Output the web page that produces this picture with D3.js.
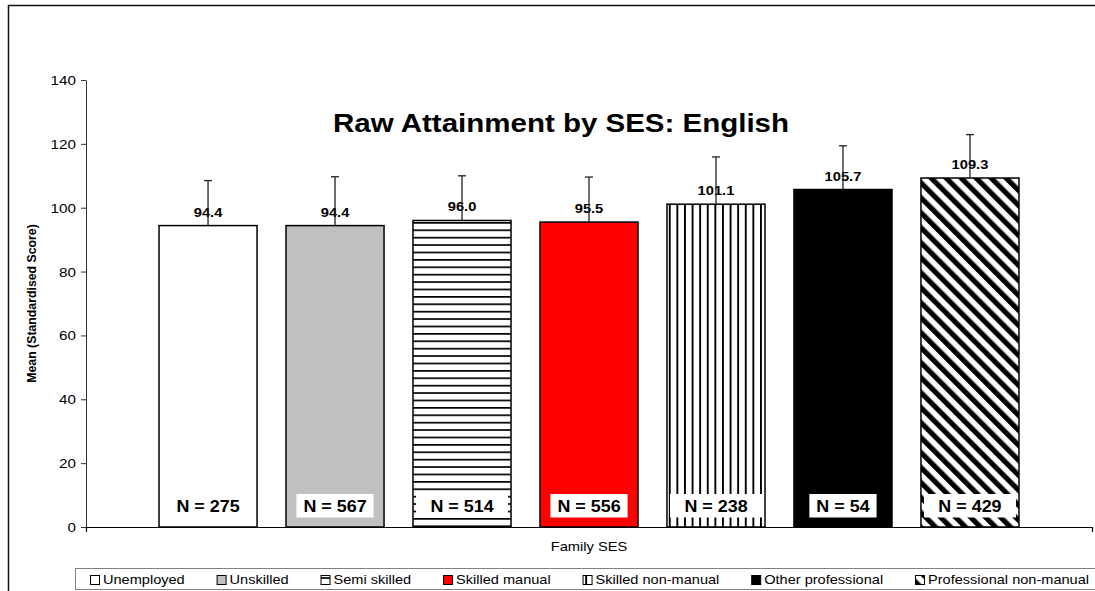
<!DOCTYPE html>
<html>
<head>
<meta charset="utf-8">
<script src="https://cdn.jsdelivr.net/npm/d3@7"></script>
<style>
  html, body { margin: 0; background: #fff; overflow: hidden; }
  svg { display: block; overflow: hidden; }
</style>
</head>
<body>
<svg id="chart" width="1095" height="591"></svg>
<script>
"use strict";

var categories = ["Unemployed", "Unskilled", "Semi skilled", "Skilled manual",
  "Skilled non-manual", "Other professional", "Professional non-manual"];
var meanValues = [94.4, 94.4, 96.0, 95.5, 101.1, 105.7, 109.3];
var errorValues = [14.1, 15.3, 14.0, 14.1, 14.8, 13.7, 13.6];
var sampleSizes = [275, 567, 514, 556, 238, 54, 429];
var yTicks = [0, 20, 40, 60, 80, 100, 120, 140];

var barFills = ["#ffffff", "#c0c0c0", "url(#pat-horiz)", "#ff0000",
  "url(#pat-vert)", "#000000", "url(#pat-diag)"];

var FONT = "'Liberation Sans', Arial, Helvetica, sans-serif";
var STRETCH = 1.13; // the original render is wider than it is tall

var svg = d3.select("#chart");
var plot = { left: 86, right: 1092, top: 80, bottom: 527 };

var x = d3.scaleBand()
  .domain(categories)
  .range([plot.left, plot.right])
  .paddingInner(0.228)
  .paddingOuter(0.575);
var y = d3.scaleLinear().domain([0, 140]).range([plot.bottom, plot.top]);

// patterns
var defs = svg.append("defs");
var horiz = defs.append("pattern").attr("id", "pat-horiz")
  .attr("patternUnits", "userSpaceOnUse").attr("width", 8).attr("height", 7.4);
horiz.append("rect").attr("width", 8).attr("height", 7.4).attr("fill", "#fff");
horiz.append("rect").attr("width", 8).attr("height", 1.7).attr("fill", "#000");

var vert = defs.append("pattern").attr("id", "pat-vert")
  .attr("patternUnits", "userSpaceOnUse").attr("width", 7.6).attr("height", 8);
vert.append("rect").attr("width", 7.6).attr("height", 8).attr("fill", "#fff");
vert.append("rect").attr("width", 1.9).attr("height", 8).attr("fill", "#000");

var diag = defs.append("pattern").attr("id", "pat-diag")
  .attr("patternUnits", "userSpaceOnUse").attr("width", 10.6).attr("height", 10)
  .attr("patternTransform", "rotate(-45)");
diag.append("rect").attr("width", 10.6).attr("height", 10).attr("fill", "#fff");
diag.append("rect").attr("width", 5.2).attr("height", 10).attr("fill", "#000");

function addText(parent, px, py, str, size, weight, anchor, sx) {
  return parent.append("text")
    .attr("transform", "translate(" + px + "," + py + ") scale(" + (sx || STRETCH) + ",1)")
    .attr("text-anchor", anchor || "middle")
    .style("font-family", FONT)
    .style("font-size", size + "px")
    .style("font-weight", weight || "normal")
    .attr("fill", "#000")
    .text(str);
}

function textWidth(sel, sx) {
  return sel.node().getComputedTextLength() * (sx || STRETCH);
}

// outer chart frame (cropped on the right and bottom)
svg.append("rect")
  .attr("x", 8.5).attr("y", 5.5)
  .attr("width", 1200).attr("height", 700)
  .attr("fill", "none").attr("stroke", "#111").attr("stroke-width", 1.5);

// title
addText(svg, 561, 132, "Raw Attainment by SES: English", 25, "bold", "middle", 1.18);

// bars
var bars = svg.append("g").attr("class", "bars");
bars.selectAll("rect")
  .data(meanValues)
  .enter()
  .append("rect")
  .attr("x", function (d, i) { return x(categories[i]); })
  .attr("y", function (d) { return y(d); })
  .attr("width", x.bandwidth())
  .attr("height", function (d) { return y(0) - y(d); })
  .attr("fill", function (d, i) { return barFills[i]; })
  .attr("stroke", "#000")
  .attr("stroke-width", 1.5);

// N labels in white boxes near the base
var nLabels = svg.append("g").attr("class", "n-labels");
sampleSizes.forEach(function (n, i) {
  var cx = x(categories[i]) + x.bandwidth() / 2;
  var g = nLabels.append("g");
  var box = g.append("rect").attr("fill", "#fff");
  var t = addText(g, cx, y(0) - 15.5, "N = " + n, 16, "bold", "middle", 1.12);
  var w = textWidth(t, 1.12) + 14;
  if (barFills[i].indexOf("url") === 0) {
    w = x.bandwidth() - 6;
  }
  box.attr("x", cx - w / 2).attr("y", y(0) - 33).attr("width", w).attr("height", 23.5);
});

// value labels
var valueLabels = svg.append("g").attr("class", "value-labels");
meanValues.forEach(function (v, i) {
  var cx = x(categories[i]) + x.bandwidth() / 2;
  addText(valueLabels, cx, y(v) - 9, v.toFixed(1), 13, "bold", "middle", 1.13);
});

// error bars (upper only)
var errBars = svg.append("g").attr("class", "error-bars")
  .attr("stroke", "#222").attr("stroke-width", 1.3);
meanValues.forEach(function (v, i) {
  var cx = x(categories[i]) + x.bandwidth() / 2;
  var top = y(v + errorValues[i]);
  errBars.append("line").attr("x1", cx).attr("x2", cx).attr("y1", y(v)).attr("y2", top);
  errBars.append("line").attr("x1", cx - 4).attr("x2", cx + 4).attr("y1", top).attr("y2", top);
});

// y axis
var yAxisG = svg.append("g")
  .attr("transform", "translate(" + plot.left + ",0)")
  .call(d3.axisLeft(y).tickValues(yTicks).tickSizeInner(5).tickSizeOuter(0).tickFormat(d3.format("d")));
yAxisG.selectAll("path, line").attr("stroke", "#333");
yAxisG.selectAll(".tick text").remove();
yAxisG.selectAll(".tick").each(function (d) {
  addText(d3.select(this), -10, 4.5, d, 12.5, "normal", "end", 1.22);
});

// x axis: baseline with end ticks
var xAxisG = svg.append("g")
  .attr("transform", "translate(0," + y(0) + ")")
  .call(d3.axisBottom(x).tickSizeInner(0).tickSizeOuter(5).tickFormat(""));
xAxisG.select(".domain").attr("stroke", "#000").attr("stroke-width", 1.2);
xAxisG.selectAll(".tick").remove();

// axis titles
addText(svg, 589, 551, "Family SES", 13, "normal", "middle", 1.13);
svg.append("text")
  .attr("transform", "translate(36,303.5) rotate(-90)")
  .attr("text-anchor", "middle")
  .style("font-family", FONT)
  .style("font-size", "12.3px")
  .style("font-weight", "bold")
  .text("Mean (Standardised Score)");

// legend (its right edge runs off the picture)
var legend = svg.append("g").attr("class", "legend");
legend.append("rect")
  .attr("x", 75.5).attr("y", 568.5).attr("width", 1040).attr("height", 21)
  .attr("fill", "#fff").attr("stroke", "#808080").attr("stroke-width", 1);

var items = categories.map(function (c, i) {
  var g = legend.append("g");
  var t = addText(g, 0, 584.3, c, 13, "normal", "start", 1.12);
  return { g: g, t: t, w: 13 + textWidth(t, 1.12) };
});
var legStart = 90, legEnd = 1089;
var total = d3.sum(items, function (d) { return d.w; });
var gap = (legEnd - legStart - total) / (items.length - 1);
var cursor = legStart;
items.forEach(function (it, i) {
  it.g.append("rect")
    .attr("x", cursor + 0.5).attr("y", 575.5).attr("width", 9).attr("height", 9)
    .attr("fill", barFills[i]).attr("stroke", "#000").attr("stroke-width", 1);
  it.t.attr("transform", "translate(" + (cursor + 13) + ",584.3) scale(1.12,1)");
  cursor += it.w + gap;
});
</script>
</body>
</html>
